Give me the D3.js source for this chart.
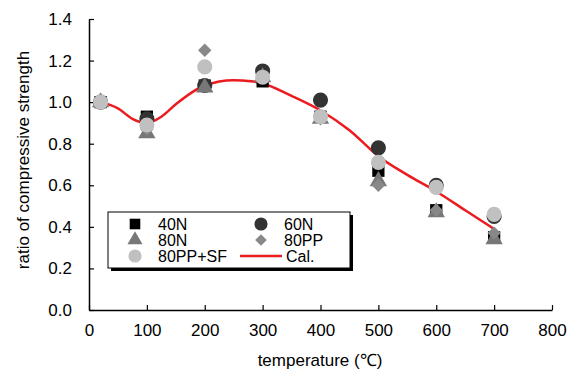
<!DOCTYPE html>
<html>
<head>
<meta charset="utf-8">
<script src="https://cdn.jsdelivr.net/npm/d3@7"></script>
<style>
  body { margin: 0; background: #fff; }
  text { font-family: Arial, "Liberation Sans", sans-serif; fill: #000; }
</style>
</head>
<body>
<script>
// temperatures where the specimens were tested
var temps = [20, 100, 200, 300, 400, 500, 600, 700];
var s40N     = [1.00, 0.93, 1.08, 1.10, 0.93, 0.67, 0.48, 0.35];
var s60N     = [1.00, 0.92, 1.08, 1.15, 1.01, 0.78, 0.60, 0.45];
var s80N     = [1.00, 0.85, 1.07, 1.12, 0.92, 0.62, 0.47, 0.34];
var s80PP    = [1.00, 0.87, 1.25, 1.12, 0.92, 0.60, 0.48, 0.37];
var s80PPSF  = [1.00, 0.89, 1.17, 1.12, 0.93, 0.71, 0.59, 0.46];
// calculated curve
var calT = [20, 50, 75, 100, 125, 150, 200, 250, 280, 300, 350, 400, 450, 500, 550, 600, 650, 700];
var calV = [1.00, 0.97, 0.92, 0.90, 0.93, 0.99, 1.08, 1.105, 1.10, 1.09, 1.03, 0.96, 0.865, 0.74, 0.65, 0.57, 0.48, 0.39];
var xTicks = [0, 100, 200, 300, 400, 500, 600, 700, 800];
var yTicks = [0, 0.2, 0.4, 0.6, 0.8, 1.0, 1.2, 1.4];

var svg = d3.select('body').append('svg')
    .attr('width', 584).attr('height', 371);

var x = d3.scaleLinear().domain([0, 800]).range([89, 552]);
var y = d3.scaleLinear().domain([0, 1.4]).range([310, 19]);

// axes (ticks pointing inward)
var xAxis = d3.axisBottom(x).tickValues(xTicks).tickSizeInner(-5).tickSizeOuter(0).tickPadding(14);
var yAxis = d3.axisLeft(y).tickValues(yTicks).tickSizeInner(-5).tickSizeOuter(0).tickPadding(17)
    .tickFormat(d3.format('.1f'));

var gx = svg.append('g').attr('transform', 'translate(0,310)').call(xAxis);
var gy = svg.append('g').attr('transform', 'translate(89,0)').call(yAxis);
[gx, gy].forEach(function(g) {
    g.select('.domain').attr('stroke', '#000').attr('stroke-width', 1.5);
    g.selectAll('.tick line').attr('stroke', '#000').attr('stroke-width', 1.2);
    g.selectAll('.tick text').attr('font-size', '17px').attr('font-family', 'Arial, "Liberation Sans", sans-serif').attr('fill', '#000');
});

svg.append('text')
    .attr('x', 320).attr('y', 366)
    .attr('text-anchor', 'middle')
    .attr('font-size', '17px')
    .text('temperature (℃)');

svg.append('text')
    .attr('transform', 'translate(29,160) rotate(-90)')
    .attr('text-anchor', 'middle')
    .attr('font-size', '17px')
    .text('ratio of compressive strength');

// calculated line
var line = d3.line()
    .x(function(d, i) { return x(calT[i]); })
    .y(function(d) { return y(d); })
    .curve(d3.curveMonotoneX);
svg.append('path')
    .datum(calV)
    .attr('d', line)
    .attr('fill', 'none')
    .attr('stroke', '#ec1b1f')
    .attr('stroke-width', 2.5);

// diamond = square turned 45 degrees
var series = [
    { name: '40N', vals: s40N, sym: d3.symbolSquare, size: 150, rot: 0, fill: '#000000' },
    { name: '60N', vals: s60N, sym: d3.symbolCircle, size: 180, rot: 0, fill: '#333333' },
    { name: '80N', vals: s80N, sym: d3.symbolTriangle, size: 130, rot: 0, fill: '#777777' },
    { name: '80PP', vals: s80PP, sym: d3.symbolSquare, size: 90, rot: 45, fill: '#888888' },
    { name: '80PP+SF', vals: s80PPSF, sym: d3.symbolCircle, size: 180, rot: 0, fill: '#c0c0c0' }
];

series.forEach(function(s) {
    svg.append('g').selectAll('path')
        .data(s.vals)
        .enter()
        .append('path')
        .attr('d', d3.symbol().type(s.sym).size(s.size))
        .attr('transform', function(d, i) {
            return 'translate(' + x(temps[i]) + ',' + y(d) + ') rotate(' + s.rot + ')';
        })
        .attr('fill', s.fill);
});

// legend
var lg = svg.append('g');
lg.append('rect').attr('x', 111).attr('y', 215).attr('width', 242).attr('height', 56).attr('fill', '#000');
lg.append('rect').attr('x', 108).attr('y', 212).attr('width', 242).attr('height', 56)
    .attr('fill', '#fff').attr('stroke', '#000').attr('stroke-width', 1);

var legendItems = [
    { s: series[0], cx: 135, cy: 224 },
    { s: series[1], cx: 261, cy: 224 },
    { s: series[2], cx: 135, cy: 240 },
    { s: series[3], cx: 261, cy: 240 },
    { s: series[4], cx: 135, cy: 256 }
];
legendItems.forEach(function(it) {
    lg.append('path')
        .attr('d', d3.symbol().type(it.s.sym).size(it.s.size * 0.75))
        .attr('transform', 'translate(' + it.cx + ',' + it.cy + ') rotate(' + it.s.rot + ')')
        .attr('fill', it.s.fill);
    lg.append('text')
        .attr('x', it.cx + 23).attr('y', it.cy + 6)
        .attr('font-size', '16px')
        .text(it.s.name);
});
lg.append('line').attr('x1', 240).attr('x2', 282).attr('y1', 256).attr('y2', 256)
    .attr('stroke', '#ec1b1f').attr('stroke-width', 2.5);
lg.append('text').attr('x', 286).attr('y', 262).attr('font-size', '16px').text('Cal.');
</script>
</body>
</html>
